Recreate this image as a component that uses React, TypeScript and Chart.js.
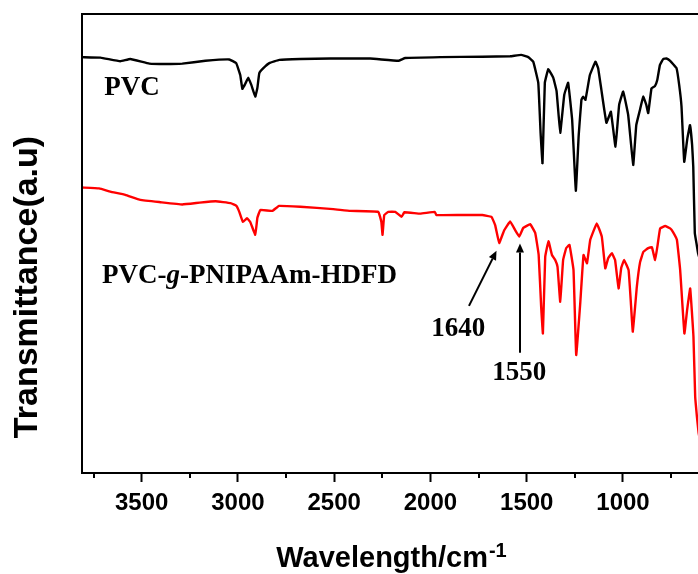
import React, { useEffect, useRef } from 'react';
import { Chart, registerables } from 'chart.js';

Chart.register(...registerables);

// ---- data (wavenumber in cm^-1, transmittance in arbitrary units) ----
const seriesNames = ['PVC', 'PVC-g-PNIPAAm-HDFD'];

const pvcWavenumbers = [
  3810, 3714, 3611, 3559, 3460, 3377, 3289, 3169, 3045, 3009, 2988, 2977, 2962, 2946, 2930, 2910,
  2899, 2889, 2868, 2837, 2785, 2676, 2520, 2313, 2167, 2131, 1949, 1731, 1586, 1529, 1492, 1466,
  1440, 1428, 1418, 1406, 1388, 1362, 1345, 1326, 1305, 1285, 1264, 1245, 1230, 1216, 1207, 1195,
  1172, 1143, 1129, 1112, 1086, 1063, 1039, 1020, 999, 973, 947, 931, 912, 895, 879, 869, 852,
  834, 822, 808, 791, 774, 755, 722, 708, 696, 682, 666, 652, 641, 635, 627, 617, 610, 600,
];
const pvcValues = [
  90.6, 90.5, 89.7, 90.2, 89.2, 89.1, 89.2, 89.8, 90.1, 89.3, 86.7, 83.7, 84.8, 86.1, 84.5, 82.0,
  83.9, 87.1, 88.2, 89.3, 90.0, 90.2, 90.3, 90.3, 89.8, 90.4, 90.6, 90.7, 90.8, 91.1, 90.6, 89.6,
  85.0, 74.1, 67.5, 85.0, 88.0, 86.1, 83.2, 74.1, 82.4, 85.0, 76.9, 61.5, 73.6, 81.3, 82.0, 81.3,
  86.7, 89.6, 88.2, 83.4, 76.3, 78.7, 71.1, 80.2, 83.1, 78.0, 67.1, 75.8, 79.1, 82.0, 80.2, 78.4, 83.8,
  84.3, 85.6, 88.9, 90.2, 90.3, 89.8, 88.2, 84.5, 79.8, 67.8, 72.8, 75.8, 71.5, 66.7, 52.3, 49.7, 47.9, 46.4,
];

const graftWavenumbers = [
  3810, 3721, 3663, 3585, 3507, 3403, 3289, 3199, 3116, 3038, 3008, 2993, 2974, 2953, 2936, 2910,
  2899, 2884, 2821, 2787, 2676, 2505, 2416, 2271, 2255, 2249, 2240, 2219, 2183, 2150, 2136, 2053,
  1977, 1970, 1845, 1731, 1683, 1664, 1643, 1617, 1586, 1560, 1539, 1518, 1482, 1456, 1438, 1425,
  1416, 1404, 1387, 1369, 1352, 1340, 1326, 1311, 1295, 1278, 1257, 1243, 1222, 1205, 1187, 1170,
  1136, 1110, 1092, 1077, 1058, 1041, 1023, 1009, 994, 971, 960, 949, 928, 911, 894, 869, 850,
  833, 820, 807, 781, 755, 740, 720, 703, 681, 667, 651, 634, 625, 616, 607, 600,
];
const graftValues = [
  62.2, 62.0, 61.3, 60.6, 59.5, 59.0, 58.5, 58.9, 59.2, 58.8, 58.2, 56.9, 54.7, 55.5, 54.7, 51.9,
  55.6, 57.3, 57.1, 58.2, 58.0, 57.5, 57.1, 56.9, 54.7, 51.9, 56.2, 56.9, 56.9, 55.8, 56.8, 56.5,
  56.9, 56.2, 56.2, 56.2, 55.8, 54.0, 50.1, 52.9, 54.8, 52.9, 51.5, 53.4, 54.2, 52.3, 47.5, 36.2,
  30.4, 47.1, 50.5, 47.5, 46.4, 44.9, 37.3, 46.4, 49.0, 49.7, 44.2, 25.7, 37.0, 47.5, 45.7, 50.8,
  54.4, 51.5, 44.6, 46.8, 47.9, 46.4, 40.2, 44.7, 46.4, 44.2, 37.7, 30.8, 40.6, 46.0, 48.2, 49.0, 49.2,
  46.4, 49.7, 53.3, 53.8, 53.3, 52.5, 50.8, 44.2, 30.4, 35.5, 40.2, 29.7, 16.6, 12.3, 8.7, 7.2,
];

const xMajorTicks = [1000, 1500, 2000, 2500, 3000, 3500];
const xMinorTicks = [750, 1250, 1750, 2250, 2750, 3250, 3750];
const xTitle = 'Wavelength/cm';
const xTitleSup = '-1';
const yTitle = 'Transmittance(a.u)';
const peakLabels = ['1640', '1550'];

// annotation anchors in data coordinates
const seriesLabelAnchors = [
  { x: 3695, y: 82.4 },
  { x: 3706, y: 41.4 },
];
const peakLabelAnchors = [
  { x: 1856, y: 29.9 },
  { x: 1539, y: 20.3 },
];
const peakArrows = [
  { from: { x: 1800, y: 36.4 }, to: { x: 1657, y: 48.4 } },
  { from: { x: 1535, y: 26.2 }, to: { x: 1535, y: 50.0 } },
];

const SANS = '"Liberation Sans", Arial, Helvetica, sans-serif';
const SERIF = '"Liberation Serif", "Times New Roman", Times, serif';

const zip = (xs: number[], ys: number[]) => xs.map((x, i) => ({ x, y: ys[i] }));

const decorPlugin = {
  id: 'decor',
  afterDraw(chart: any) {
    const { ctx, chartArea: a, scales } = chart;
    const xs = scales.x;
    const ys = scales.y;
    ctx.save();
    // frame
    ctx.strokeStyle = '#000';
    ctx.lineWidth = 2;
    ctx.strokeRect(a.left, a.top, a.right - a.left, a.bottom - a.top);
    // minor ticks
    for (const v of xMinorTicks) {
      const px = Math.round(xs.getPixelForValue(v));
      ctx.beginPath();
      ctx.moveTo(px, a.bottom);
      ctx.lineTo(px, a.bottom + 5);
      ctx.stroke();
    }
    // y title
    ctx.fillStyle = '#000';
    ctx.save();
    ctx.translate(28, chart.height / 2);
    ctx.rotate(-Math.PI / 2);
    ctx.font = `bold 34px ${SANS}`;
    ctx.textAlign = 'center';
    ctx.textBaseline = 'middle';
    ctx.fillText(yTitle, 0, 0);
    ctx.restore();
    // x title with superscript
    ctx.font = `bold 29px ${SANS}`;
    const mainW = ctx.measureText(xTitle).width;
    ctx.font = `bold 20px ${SANS}`;
    const supW = ctx.measureText(xTitleSup).width;
    const cx = (a.left + a.right) / 2;
    const startX = cx - (mainW + supW) / 2;
    ctx.textAlign = 'left';
    ctx.textBaseline = 'alphabetic';
    ctx.font = `bold 29px ${SANS}`;
    ctx.fillText(xTitle, startX, 567);
    ctx.font = `bold 20px ${SANS}`;
    ctx.fillText(xTitleSup, startX + mainW + 1, 557);

    // series labels
    const drawParts = (parts: { t: string; italic?: boolean }[], x: number, y: number) => {
      let cur = x;
      for (const p of parts) {
        ctx.font = `${p.italic ? 'italic ' : ''}bold 27px ${SERIF}`;
        ctx.fillText(p.t, cur, y);
        cur += ctx.measureText(p.t).width;
      }
    };
    ctx.textAlign = 'left';
    const l0 = seriesLabelAnchors[0];
    drawParts([{ t: seriesNames[0] }], xs.getPixelForValue(l0.x), ys.getPixelForValue(l0.y));
    const l1 = seriesLabelAnchors[1];
    const nm = seriesNames[1].split('-g-');
    drawParts(
      [{ t: nm[0] + '-' }, { t: 'g', italic: true }, { t: '-' + nm[1] }],
      xs.getPixelForValue(l1.x),
      ys.getPixelForValue(l1.y)
    );
    // peak labels
    ctx.font = `bold 27px ${SERIF}`;
    ctx.textAlign = 'center';
    peakLabels.forEach((t, i) => {
      const p = peakLabelAnchors[i];
      ctx.fillText(t, xs.getPixelForValue(p.x), ys.getPixelForValue(p.y));
    });
    // arrows
    ctx.lineWidth = 2;
    for (const ar of peakArrows) {
      const x1 = xs.getPixelForValue(ar.from.x);
      const y1 = ys.getPixelForValue(ar.from.y);
      const x2 = xs.getPixelForValue(ar.to.x);
      const y2 = ys.getPixelForValue(ar.to.y);
      const ang = Math.atan2(y2 - y1, x2 - x1);
      const hl = 9;
      const hw = 4;
      const bx = x2 - hl * Math.cos(ang);
      const by = y2 - hl * Math.sin(ang);
      ctx.beginPath();
      ctx.moveTo(x1, y1);
      ctx.lineTo(bx, by);
      ctx.stroke();
      ctx.beginPath();
      ctx.moveTo(x2, y2);
      ctx.lineTo(bx + hw * Math.sin(ang), by - hw * Math.cos(ang));
      ctx.lineTo(bx - hw * Math.sin(ang), by + hw * Math.cos(ang));
      ctx.closePath();
      ctx.fill();
    }
    ctx.restore();
  },
};

export default function App() {
  const ref = useRef<HTMLCanvasElement | null>(null);
  useEffect(() => {
    if (!ref.current) return;
    const chart = new Chart(ref.current, {
      type: 'line',
      data: {
        datasets: [
          {
            label: seriesNames[0],
            data: zip(pvcWavenumbers, pvcValues),
            borderColor: '#000000',
            borderWidth: 2.4,
            pointRadius: 0,
            tension: 0.08,
          },
          {
            label: seriesNames[1],
            data: zip(graftWavenumbers, graftValues),
            borderColor: '#ff0000',
            borderWidth: 2.4,
            pointRadius: 0,
            tension: 0.08,
          },
        ],
      },
      options: {
        responsive: false,
        devicePixelRatio: 1,
        animation: false,
        layout: { padding: { left: 82, top: 14, right: 20, bottom: 0 } },
        plugins: { legend: { display: false }, tooltip: { enabled: false } },
        scales: {
          x: {
            type: 'linear',
            reverse: true,
            min: 600,
            max: 3810,
            afterBuildTicks: (s: any) => {
              s.ticks = xMajorTicks.map((v) => ({ value: v }));
            },
            afterFit: (s: any) => {
              s.height = 101;
            },
            border: { display: false },
            grid: {
              drawOnChartArea: false,
              drawTicks: true,
              tickLength: 9,
              tickWidth: 2,
              tickColor: '#000',
            },
            ticks: {
              color: '#000',
              padding: 7,
              maxRotation: 0,
              autoSkip: false,
              font: { family: SANS, size: 24, weight: 'bold' },
              callback: (v: any) => String(v),
            },
          },
          y: {
            display: false,
            min: 0,
            max: 100,
          },
        },
      },
      plugins: [decorPlugin],
    } as any);
    return () => chart.destroy();
  }, []);
  return (
    <div style={{ position: 'fixed', left: 0, top: 0, width: 698, height: 574, overflow: 'hidden', background: '#fff' }}>
      <canvas ref={ref} width={720} height={574} style={{ display: 'block' }} />
    </div>
  );
}
